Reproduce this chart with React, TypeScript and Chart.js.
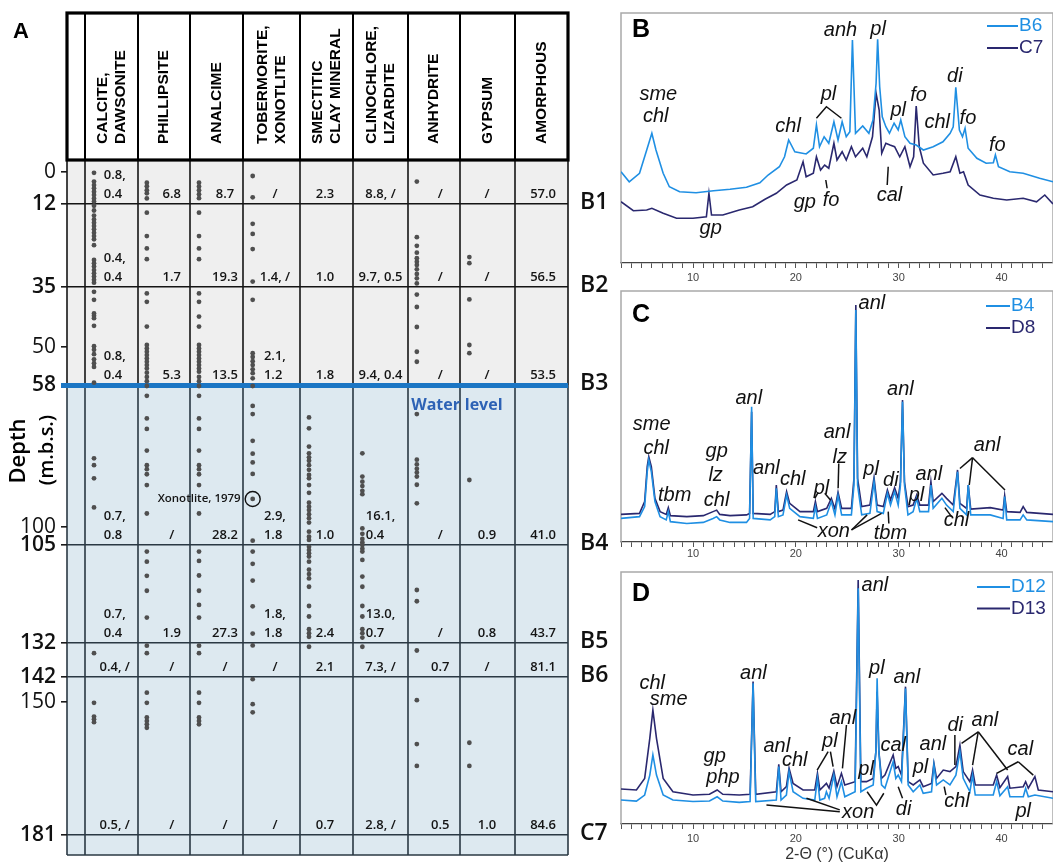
import React, { useEffect, useRef } from "react";
import { Chart, registerables, LinearScale } from "chart.js";

Chart.register(...registerables);

// ---------------- DATA: panel A ----------------
const mineralNames = [
  ["CALCITE,", "DAWSONITE"],
  ["PHILLIPSITE"],
  ["ANALCIME"],
  ["TOBERMORITE,", "XONOTLITE"],
  ["SMECTITIC", "CLAY MINERAL"],
  ["CLINOCHLORE,", "LIZARDITE"],
  ["ANHYDRITE"],
  ["GYPSUM"],
  ["AMORPHOUS"],
];
const depthTicks = [0, 12, 35, 50, 58, 100, 105, 132, 142, 150, 181];
const intervalBottoms = [12, 35, 58, 105, 132, 142, 181];
const sampleLabels = ["B1", "B2", "B3", "B4", "B5", "B6", "C7"];
const WATER_LEVEL = 58;

const calciteDots = [0.3, 3.6, 4.9, 6.1, 7.4, 8.6, 9.9, 11.1, 12.5, 13.8, 15.2, 16.3, 17.2, 18.1, 19.0, 20.0, 20.9, 21.8, 23.4, 27.5, 28.4, 29.3, 30.3, 31.2, 32.1, 33.0, 33.8, 36.2, 38.2, 41.6, 42.2, 42.8, 44.7, 49.8, 50.6, 51.5, 52.6, 53.4, 54.2, 57.5, 79.7, 81.7, 85.6, 94.2, 135.0, 150.2, 153.4, 154.0, 154.7];
const phillipsiteDots = [4.0, 5.3, 6.8, 8.0, 9.9, 14.4, 20.9, 24.3, 27.3, 36.6, 38.7, 44.9, 49.5, 50.3, 51.0, 51.7, 52.4, 53.1, 53.8, 54.5, 55.4, 56.3, 57.2, 58.3, 61.2, 67.9, 71.0, 77.4, 81.7, 82.9, 84.4, 87.6, 96.0, 106.8, 109.6, 113.5, 117.6, 125.0, 132.8, 135.0, 147.0, 150.2, 153.6, 154.4, 155.2, 156.0];
const analcimeDots = [4.0, 5.4, 6.8, 8.3, 9.8, 14.4, 20.9, 24.3, 27.3, 36.6, 38.7, 42.4, 44.9, 49.5, 50.3, 51.0, 51.7, 52.4, 53.1, 53.8, 54.5, 55.2, 56.3, 57.2, 58.3, 61.2, 67.9, 71.0, 77.4, 81.7, 82.9, 84.4, 87.6, 96.0, 106.8, 109.4, 113.4, 117.6, 121.5, 125.0, 132.8, 135.0, 147.0, 150.2, 153.6, 154.4, 155.2];
const tobermoriteDots = [1.5, 9.5, 17.5, 20.3, 24.5, 33.5, 38.2, 51.3, 52.1, 53.0, 53.8, 54.7, 55.5, 56.6, 58.3, 64.2, 66.6, 74.5, 78.3, 80.9, 84.3, 91.7, 103.8, 106.8, 110.2, 114.8, 121.9, 129.4, 132.7, 142.7, 150.5, 152.4];
const smectiteDots = [67.6, 70.8, 76.2, 78.2, 79.4, 80.4, 81.7, 83.1, 84.6, 85.6, 87.6, 89.9, 92.8, 94.0, 95.0, 96.2, 97.4, 98.7, 101.3, 102.7, 103.6, 105.5, 106.4, 107.3, 108.2, 109.6, 111.8, 113.0, 114.2, 116.5, 121.8, 124.7, 128.2, 129.3, 130.3, 133.1];
const clinochloreDots = [78.2, 85.1, 86.6, 87.9, 89.3, 90.3, 100.4, 101.9, 103.3, 104.3, 105.0, 106.0, 106.8, 109.1, 113.7, 116.5, 121.8, 124.7, 128.2, 129.3, 130.5, 133.1];
const anhydriteDots = [3.6, 21.2, 23.6, 25.5, 27.0, 28.0, 28.9, 30.1, 31.4, 32.6, 34.0, 36.9, 40.0, 45.0, 51.0, 53.1, 66.6, 80.1, 81.5, 82.8, 83.9, 85.1, 87.5, 93.0, 117.4, 120.5, 134.2, 149.4, 159.8, 164.9];
const gypsumDots = [26.7, 28.4, 38.1, 49.5, 51.3, 86.1, 159.5, 164.9];
const amorphousDots: number[] = [];
const mineralDots = [calciteDots, phillipsiteDots, analcimeDots, tobermoriteDots, smectiteDots, clinochloreDots, anhydriteDots, gypsumDots, amorphousDots];

const calciteVals = ["0.8,\n0.4", "0.4,\n0.4", "0.8,\n0.4", "0.7,\n0.8", "0.7,\n0.4", "0.4, /", "0.5, /"];
const phillipsiteVals = ["6.8", "1.7", "5.3", "/", "1.9", "/", "/"];
const analcimeVals = ["8.7", "19.3", "13.5", "28.2", "27.3", "/", "/"];
const tobermoriteVals = ["/", "1.4, /", "2.1,\n1.2", "2.9,\n1.8", "1.8,\n1.8", "/", "/"];
const smectiteVals = ["2.3", "1.0", "1.8", "1.0", "2.4", "2.1", "0.7"];
const clinochloreVals = ["8.8, /", "9.7, 0.5", "9.4, 0.4", "16.1,\n0.4", "13.0,\n0.7", "7.3, /", "2.8, /"];
const anhydriteVals = ["/", "/", "/", "/", "/", "0.7", "0.5"];
const gypsumVals = ["/", "/", "/", "0.9", "0.8", "/", "1.0"];
const amorphousVals = ["57.0", "56.5", "53.5", "41.0", "43.7", "81.1", "84.6"];
const mineralVals = [calciteVals, phillipsiteVals, analcimeVals, tobermoriteVals, smectiteVals, clinochloreVals, anhydriteVals, gypsumVals, amorphousVals];

const xonotliteDepth = 91.7;
const xonotliteLabel = "Xonotlite, 1979";
const XON_COLUMN = 3;

// ---------------- DATA: XRD panels ----------------
const seriesB6 = [[3.0,36.5],[3.8,32.5],[4.8,35.9],[5.5,45.2],[6.0,51.9],[6.4,45.2],[7.1,35.9],[7.7,30.5],[8.7,28.5],[10.3,28.1],[12.0,28.9],[13.6,29.5],[15.2,30.3],[16.5,32.1],[17.3,35.2],[18.4,38.5],[18.9,42.5],[19.3,49.2],[19.9,44.5],[21.0,43.6],[21.7,45.9],[22.0,55.2],[22.3,46.5],[22.75,50.5],[23.2,47.9],[23.7,56.5],[24.1,49.2],[24.5,56.5],[24.9,50.5],[25.25,52.5],[25.5,89.2],[25.8,51.9],[26.5,54.8],[27.1,51.9],[27.5,57.2],[27.8,71.9],[27.95,89.5],[28.15,70.5],[28.4,58.5],[28.75,54.5],[29.1,51.9],[29.55,55.9],[29.95,53.2],[30.2,57.2],[30.6,50.5],[31.1,47.9],[31.7,47.2],[32.4,45.2],[33.35,46.5],[34.3,48.5],[35.0,51.9],[35.3,54.5],[35.55,70.3],[35.9,53.2],[36.2,50.5],[36.45,53.9],[36.75,45.9],[37.6,41.9],[38.5,39.9],[39.2,40.1],[39.4,43.2],[39.7,38.5],[40.8,36.5],[42.1,35.9],[43.7,33.9],[45.0,32.5]];
const seriesC7 = [[3.0,24.5],[4.2,20.9],[5.5,21.2],[6.0,21.9],[7.1,19.9],[8.4,17.9],[10.0,17.9],[11.3,18.5],[11.55,27.9],[11.8,19.2],[12.9,19.2],[14.5,21.2],[15.8,22.5],[17.0,25.5],[18.1,27.9],[19.1,31.2],[20.1,33.2],[20.7,40.5],[21.0,34.5],[21.7,35.9],[22.0,42.5],[22.4,37.2],[22.8,39.2],[23.2,37.9],[23.7,47.9],[24.0,41.2],[24.5,44.5],[24.9,41.2],[25.4,46.5],[25.8,42.5],[26.5,45.9],[26.9,42.5],[27.45,50.5],[27.8,67.9],[28.1,61.2],[28.35,43.9],[28.75,47.9],[29.15,47.2],[29.6,46.5],[30.1,42.5],[30.6,46.5],[31.1,38.5],[31.45,42.5],[31.7,62.8],[32.0,46.5],[32.4,39.9],[33.35,35.2],[34.3,35.9],[35.0,36.5],[35.55,42.5],[35.95,35.9],[36.3,36.5],[36.75,31.2],[37.9,27.2],[39.2,25.9],[40.5,25.2],[42.1,25.9],[43.4,24.5],[44.2,27.2],[45.0,23.6]];
const seriesB4 = [[3.0,9.4],[4.8,10.1],[5.3,14.1],[5.55,28.0],[5.7,32.7],[5.95,28.0],[6.3,16.1],[6.8,10.1],[7.4,8.8],[7.6,12.1],[7.8,8.1],[9.4,7.4],[11.0,7.8],[11.95,9.4],[12.3,10.1],[12.6,8.8],[13.6,7.8],[15.2,7.8],[15.5,9.4],[15.7,53.9],[15.85,9.4],[17.5,8.8],[17.95,10.1],[18.1,21.4],[18.3,10.1],[18.75,10.8],[19.1,18.7],[19.4,13.4],[20.4,10.1],[21.7,9.4],[21.9,14.1],[22.1,9.4],[23.0,10.8],[23.45,16.1],[23.8,10.8],[24.1,18.5],[24.45,10.8],[25.4,10.8],[25.65,22.7],[25.83,92.4],[26.0,22.7],[26.4,10.8],[27.2,11.4],[27.6,24.0],[27.9,12.1],[28.5,11.4],[28.9,19.4],[29.2,14.7],[29.6,20.1],[29.95,14.7],[30.17,22.7],[30.37,55.9],[30.56,22.7],[30.9,10.8],[31.4,12.1],[31.75,17.4],[32.05,12.1],[32.9,12.1],[33.13,22.7],[33.35,13.4],[34.2,17.4],[34.65,14.7],[35.3,12.1],[35.72,28.0],[35.95,13.4],[36.6,10.8],[36.76,22.7],[37.0,10.8],[38.9,10.8],[40.15,9.4],[40.3,18.1],[40.5,8.8],[41.8,8.8],[42.1,10.8],[42.45,8.8],[45.0,8.1]];
const seriesD8 = [[3.0,11.0],[4.8,11.4],[5.3,16.1],[5.55,30.0],[5.7,34.0],[5.95,30.0],[6.3,17.4],[6.8,12.1],[7.4,11.0],[7.6,13.7],[7.8,10.5],[9.4,10.1],[11.0,10.5],[11.95,12.1],[12.3,12.7],[12.6,11.0],[13.6,10.5],[15.2,10.8],[15.5,11.4],[15.7,51.9],[15.85,11.4],[17.5,11.0],[17.95,12.1],[18.1,22.7],[18.3,12.1],[18.75,12.7],[19.1,20.1],[19.4,15.4],[20.4,12.1],[21.7,12.1],[21.9,16.1],[22.1,12.1],[23.0,13.4],[23.45,17.4],[23.8,13.1],[24.1,19.8],[24.45,13.4],[25.4,13.4],[25.65,25.4],[25.83,94.4],[26.0,25.4],[26.4,14.1],[27.2,14.7],[27.6,25.6],[27.9,14.7],[28.5,14.1],[28.9,20.7],[29.2,16.7],[29.6,21.6],[29.95,17.4],[30.17,24.0],[30.37,56.6],[30.56,24.0],[30.9,14.1],[31.4,14.7],[31.75,18.7],[32.05,14.7],[32.9,14.7],[33.13,24.0],[33.35,16.1],[34.2,19.4],[34.65,17.4],[35.3,14.7],[35.72,28.7],[35.95,15.4],[36.6,13.4],[36.76,22.7],[37.0,13.1],[38.9,13.7],[40.15,12.7],[40.3,18.5],[40.5,12.1],[41.8,11.8],[42.1,14.1],[42.45,11.8],[45.0,11.0]];
const seriesD12 = [[3.0,9.5],[4.5,9.1],[5.3,11.5],[5.8,19.4],[6.1,27.4],[6.45,19.4],[7.1,11.5],[8.05,9.5],[10.0,8.9],[11.6,9.1],[12.35,10.8],[12.9,9.1],[14.5,8.6],[15.55,8.9],[15.84,55.8],[16.1,8.9],[18.1,9.5],[18.34,22.8],[18.56,9.5],[19.08,11.5],[19.34,20.8],[19.73,12.8],[20.7,10.2],[21.84,9.5],[22.1,18.1],[22.33,9.5],[22.8,10.2],[22.97,12.8],[23.23,10.2],[23.69,19.4],[24.0,10.8],[24.43,16.8],[24.76,10.8],[25.76,12.8],[26.06,93.5],[26.32,12.8],[26.87,14.2],[27.52,15.5],[27.78,28.7],[27.9,57.8],[28.07,28.7],[28.33,15.5],[28.66,14.2],[29.46,24.7],[29.72,18.1],[29.95,19.4],[30.27,16.8],[30.66,53.8],[30.92,15.5],[31.41,12.8],[32.06,15.5],[32.38,12.2],[33.19,12.8],[33.42,23.4],[33.68,15.5],[34.33,17.5],[34.98,15.5],[35.56,19.4],[35.95,28.7],[36.27,18.1],[36.92,12.8],[37.18,19.4],[37.44,11.5],[39.19,11.5],[39.52,16.8],[39.84,11.2],[40.59,14.8],[40.81,10.8],[42.11,10.8],[42.34,14.2],[42.6,10.8],[43.24,11.5],[45.0,10.2]];
const seriesD13 = [[3.0,13.9],[4.5,13.5],[5.3,18.1],[5.8,34.0],[6.1,45.2],[6.45,34.0],[7.1,18.1],[8.05,12.8],[10.0,11.5],[11.6,11.8],[12.35,13.5],[12.9,11.8],[14.5,11.5],[15.55,11.8],[15.84,56.5],[16.1,11.8],[18.1,12.8],[18.34,23.7],[18.56,12.8],[19.08,14.8],[19.34,22.1],[19.73,16.1],[20.7,13.5],[21.84,13.5],[22.1,20.1],[22.33,13.5],[22.97,16.1],[23.23,14.2],[23.69,21.0],[24.0,14.8],[24.43,20.1],[24.76,15.5],[25.76,16.8],[26.06,96.8],[26.32,16.8],[26.87,16.8],[27.52,18.1],[27.78,28.7],[27.9,52.5],[28.07,28.7],[28.33,18.1],[28.66,19.4],[29.46,27.4],[29.72,22.1],[29.95,22.8],[30.27,19.4],[30.66,54.5],[30.92,16.8],[31.41,15.5],[32.06,17.5],[32.38,14.8],[33.19,16.1],[33.42,24.1],[33.68,18.1],[34.33,21.4],[34.98,20.8],[35.56,22.8],[35.95,31.3],[36.27,20.8],[36.92,16.8],[37.18,21.4],[37.44,15.5],[39.19,15.5],[39.52,19.4],[39.84,14.4],[40.59,18.8],[40.81,14.2],[42.11,14.8],[42.34,16.8],[42.6,14.2],[43.24,18.8],[43.57,13.5],[45.0,12.8]];

const xTickLabels = [10, 20, 30, 40];
const X_MIN = 3, X_MAX = 45;

const labelsB = [["sme",6.63,67.6],["chl",6.37,58.5],["chl",19.24,54.5],["pl",23.17,67.3],["anh",24.34,93.2],["pl",28.0,93.6],["pl",29.95,61.2],["fo",31.93,67.1],["chl",33.74,56.3],["di",35.46,74.8],["fo",36.73,57.9],["fo",39.58,46.9],["gp",20.87,24.3],["fo",23.43,24.9],["cal",29.1,27.2],["gp",11.72,13.9]];
const leadersB = [[[22.0,57.9],[22.97,62.5],[24.43,57.9]],[[22.91,33.2],[23.04,29.9]],[[28.98,38.5],[28.88,31.2]]];
const labelsC = [["sme",5.98,47.0],["chl",6.43,37.3],["tbm",8.22,18.5],["gp",12.3,36.0],["lz",12.2,26.7],["chl",12.3,16.7],["anl",15.42,57.1],["anl",17.14,29.3],["chl",19.7,25.1],["pl",22.49,21.4],["anl",24.0,43.7],["lz",24.27,33.7],["anl",27.39,95.1],["pl",27.32,29.1],["anl",30.17,60.6],["di",29.23,24.7],["pl",31.73,18.7],["anl",32.93,27.1],["anl",38.6,38.4],["chl",35.62,8.5],["xon",23.69,4.1],["tbm",29.2,3.5]];
const leadersC = [[[21.84,17.4],[22.17,19.8]],[[22.81,19.4],[23.36,16.7]],[[24.17,31.3],[24.11,21.4]],[[37.18,33.6],[35.95,29.3]],[[37.18,33.6],[36.86,22.7]],[[37.18,33.6],[40.33,20.7]],[[34.49,13.7],[35.14,10.1]],[[20.22,8.8],[22.07,5.7]],[[25.41,4.8],[26.93,10.8]],[[25.41,4.8],[28.33,11.4]],[[28.98,12.1],[29.04,7.4]]];
const labelsD = [["chl",6.04,55.8],["sme",7.63,49.3],["gp",12.11,26.7],["php",12.92,18.5],["anl",15.87,59.8],["anl",18.14,30.7],["chl",19.89,25.4],["pl",23.3,32.7],["anl",24.56,41.9],["anl",27.68,94.6],["pl",27.87,61.8],["anl",30.79,58.1],["pl",26.83,21.8],["cal",29.46,31.3],["anl",33.32,31.6],["pl",32.12,22.5],["di",35.49,39.3],["anl",38.38,40.9],["cal",41.82,29.4],["di",30.47,5.6],["chl",35.66,8.9],["pl",42.11,4.9],["xon",26.06,4.4]];
const leadersD = [[[22.07,21.4],[23.14,28.7]],[[23.62,22.8],[23.36,28.7]],[[24.92,39.3],[24.53,22.1]],[[35.46,35.3],[35.46,23.4]],[[37.73,36.6],[36.11,32.0]],[[37.73,36.6],[37.18,23.4]],[[37.73,36.6],[40.59,21.4]],[[41.62,24.7],[39.52,20.1]],[[41.62,24.7],[43.08,19.4]],[[29.95,14.8],[30.37,10.2]],[[34.42,14.8],[34.59,11.5]],[[17.14,7.5],[24.27,4.9]],[[21.03,10.2],[24.27,5.6]],[[26.93,12.8],[27.84,7.5],[28.55,12.2]]];

// ---------------- layout constants ----------------
const LIGHT = "#1f8fe3";
const DARK = "#2a286f";
const DOT_OFFSET = 0.17;
const valueAnchor = [0.56, 0.65, 0.66, 0.56, 0.47, 0.5, 0.62, 0.49, 0.53];
const KNOTS: Record<string, number[][]> = {
  y: [[-4.5, 0], [0, 12], [12, 44], [35, 127], [50, 187], [58, 225], [100, 367], [105, 385], [132, 483], [142, 517], [150, 542], [181, 675], [185.6, 695]].map(([v, p]) => [v, p / 695]),
  x: [[0, 0], [1, 18], [2, 71], [3, 123], [4, 176], [5, 233], [6, 286], [7, 341], [8, 393], [9, 448], [10, 501]].map(([v, p]) => [v, p / 501]),
};

class PiecewiseScale extends (LinearScale as any) {
  static id = "piecewise";
  knotFrac(value: number) {
    const k = KNOTS[this.id];
    if (value <= k[0][0]) return k[0][1];
    for (let i = 0; i < k.length - 1; i++) {
      if (value <= k[i + 1][0]) {
        const t = (value - k[i][0]) / (k[i + 1][0] - k[i][0]);
        return k[i][1] + t * (k[i + 1][1] - k[i][1]);
      }
    }
    return k[k.length - 1][1];
  }
  getPixelForValue(value: number) {
    const f = this.knotFrac(value);
    return this.isHorizontal() ? this.left + f * this.width : this.top + f * this.height;
  }
  getValueForPixel(pixel: number) {
    const k = KNOTS[this.id];
    const f = this.isHorizontal() ? (pixel - this.left) / this.width : (pixel - this.top) / this.height;
    for (let i = 0; i < k.length - 1; i++) {
      if (f <= k[i + 1][1]) {
        const t = (f - k[i][1]) / (k[i + 1][1] - k[i][1]);
        return k[i][0] + t * (k[i + 1][0] - k[i][0]);
      }
    }
    return k[k.length - 1][0];
  }
}
Chart.register(PiecewiseScale as any);

const boundarySet = new Set(intervalBottoms);

const panelAPlugin = {
  id: "panelA",
  beforeDraw(chart: any) {
    const { ctx, chartArea: ca } = chart;
    const xs = chart.scales.x, ys = chart.scales.y;
    const yw = ys.getPixelForValue(WATER_LEVEL);
    ctx.save();
    ctx.fillStyle = "#efefef";
    ctx.fillRect(ca.left, ca.top, ca.right - ca.left, yw - ca.top);
    ctx.fillStyle = "#dde9f0";
    ctx.fillRect(ca.left, yw, ca.right - ca.left, ca.bottom - yw);
    ctx.lineWidth = 1.6;
    for (let c = 0; c <= mineralNames.length + 1; c++) {
      const px = xs.getPixelForValue(c);
      ctx.strokeStyle = "#151515";
      ctx.beginPath(); ctx.moveTo(px, ca.top); ctx.lineTo(px, yw); ctx.stroke();
      ctx.strokeStyle = "#2a3843";
      ctx.beginPath(); ctx.moveTo(px, yw); ctx.lineTo(px, ca.bottom); ctx.stroke();
    }
    ctx.beginPath(); ctx.moveTo(ca.left, ca.bottom); ctx.lineTo(ca.right, ca.bottom); ctx.stroke();
    ctx.restore();
  },
  afterDatasetsDraw(chart: any) {
    const { ctx } = chart;
    const xs = chart.scales.x, ys = chart.scales.y;
    ctx.save();
    ctx.font = '600 13px "Open Sans"';
    ctx.fillStyle = "#141414";
    ctx.textBaseline = "middle";
    mineralVals.forEach((vals, m) => {
      const cx = xs.getPixelForValue(m + 1 + valueAnchor[m]);
      vals.forEach((txt, k) => {
        const yb = ys.getPixelForValue(intervalBottoms[k]);
        const lines = txt.split("\n");
        const w = Math.max(...lines.map((l) => ctx.measureText(l).width));
        lines.forEach((ln, i) => {
          const yy = yb - 10 - (lines.length - 1 - i) * 19;
          if (lines.length > 1) { ctx.textAlign = "left"; ctx.fillText(ln, cx - w / 2, yy); }
          else { ctx.textAlign = "center"; ctx.fillText(ln, cx, yy); }
        });
      });
    });
    const xcx = xs.getPixelForValue(XON_COLUMN + 1 + DOT_OFFSET);
    const xcy = ys.getPixelForValue(xonotliteDepth);
    ctx.font = '600 11.5px "Open Sans"';
    ctx.textAlign = "right";
    ctx.fillText(xonotliteLabel, xcx - 12, xcy);
    const yw = ys.getPixelForValue(WATER_LEVEL);
    ctx.font = 'bold 16px "Open Sans"';
    ctx.fillStyle = "#2d62b5";
    ctx.textAlign = "center";
    ctx.fillText("Water", xs.getPixelForValue(7.53), yw + 20);
    ctx.fillText("level", xs.getPixelForValue(8.43), yw + 20);
    ctx.restore();
  },
  afterDraw(chart: any) {
    const { ctx, chartArea: ca } = chart;
    const xs = chart.scales.x, ys = chart.scales.y;
    const headerTop = 13;
    ctx.save();
    ctx.strokeStyle = "#000";
    ctx.lineWidth = 2;
    for (let c = 1; c <= mineralNames.length; c++) {
      const px = xs.getPixelForValue(c);
      ctx.beginPath(); ctx.moveTo(px, headerTop); ctx.lineTo(px, ca.top); ctx.stroke();
    }
    ctx.lineWidth = 3.2;
    ctx.strokeRect(ca.left, headerTop, ca.right - ca.left, ca.top - headerTop);
    ctx.fillStyle = "#000";
    ctx.font = 'bold 15.5px "Liberation Sans"';
    ctx.textAlign = "left";
    ctx.textBaseline = "middle";
    mineralNames.forEach((lines, m) => {
      const cx = (xs.getPixelForValue(m + 1) + xs.getPixelForValue(m + 2)) / 2;
      lines.forEach((ln, i) => {
        const off = (i - (lines.length - 1) / 2) * 17.5;
        ctx.save();
        ctx.translate(cx + off, 144);
        ctx.rotate(-Math.PI / 2);
        ctx.fillText(ln, 0, 0);
        ctx.restore();
      });
    });
    ctx.font = '600 23px "Open Sans"';
    ctx.fillStyle = "#111";
    intervalBottoms.forEach((d, i) => {
      ctx.fillText(sampleLabels[i], 580, ys.getPixelForValue(d) - 2);
    });
    ctx.font = 'bold 22px "Liberation Sans"';
    ctx.fillStyle = "#000";
    ctx.fillText("A", 13, 32);
    ctx.textAlign = "center";
    ctx.save();
    ctx.translate(19, 451);
    ctx.rotate(-Math.PI / 2);
    ctx.font = '600 22px "Open Sans"';
    ctx.fillText("Depth", 0, 0);
    ctx.restore();
    ctx.save();
    ctx.translate(47, 450);
    ctx.rotate(-Math.PI / 2);
    ctx.font = '600 20px "Open Sans"';
    ctx.fillText("(m.b.s.)", 0, 0);
    ctx.restore();
    ctx.restore();
  },
};

function panelAConfig(): any {
  const datasets: any[] = mineralDots.map((dots, m) => ({
    label: mineralNames[m].join(" "),
    data: dots.map((d) => ({ x: m + 1 + DOT_OFFSET, y: d })),
    pointRadius: 2.4,
    pointBackgroundColor: "#4f4f4f",
    pointBorderWidth: 0,
    showLine: false,
  }));
  datasets.push({
    label: "Xonotlite find",
    data: [{ x: XON_COLUMN + 1 + DOT_OFFSET, y: xonotliteDepth }],
    pointRadius: 7.5,
    pointBackgroundColor: "rgba(0,0,0,0)",
    pointBorderColor: "#111",
    pointBorderWidth: 1.4,
    showLine: false,
  });
  const lineColor = (v: number) =>
    v === WATER_LEVEL ? "#1b76c4" : boundarySet.has(v) ? (v < WATER_LEVEL ? "#141414" : "#2a3843") : "rgba(0,0,0,0)";
  return {
    type: "scatter",
    data: { datasets },
    options: {
      responsive: false,
      animation: false,
      devicePixelRatio: 1,
      events: [],
      layout: { padding: { top: 160, right: 52, bottom: 9, left: 0 } },
      plugins: { legend: { display: false }, tooltip: { enabled: false } },
      scales: {
        x: { type: "piecewise", display: false, min: 0, max: 10 },
        y: {
          type: "piecewise",
          min: -4.5,
          max: 185.6,
          afterBuildTicks: (s: any) => { s.ticks = depthTicks.map((v) => ({ value: v })); },
          afterFit: (s: any) => { s.width = 67; s.paddingTop = 0; s.paddingBottom = 0; },
          border: { display: false },
          grid: {
            color: (c: any) => lineColor(c.tick ? c.tick.value : -1),
            lineWidth: (c: any) => (c.tick && c.tick.value === WATER_LEVEL ? 5 : 1.6),
            tickColor: (c: any) => (c.tick && c.tick.value === WATER_LEVEL ? "#1b76c4" : "#1a1a1a"),
            tickWidth: (c: any) => (c.tick && c.tick.value === WATER_LEVEL ? 5 : 1.6),
            tickLength: 6,
          },
          ticks: {
            padding: 5,
            color: "#111",
            callback: (v: any) => String(v),
            font: (c: any) => ({
              family: "Open Sans",
              size: 21,
              weight: c.tick && boundarySet.has(c.tick.value) ? "600" : "400",
            }),
          },
        },
      },
    },
    plugins: [panelAPlugin],
  };
}

function makeXrdPlugin(cfg: any) {
  return {
    id: "xrdDeco" + cfg.letter,
    beforeDatasetsDraw(chart: any) {
      const { ctx, chartArea: ca } = chart;
      ctx.save();
      ctx.strokeStyle = "#a9a9a9";
      ctx.lineWidth = 1.5;
      ctx.beginPath();
      ctx.moveTo(ca.left, ca.bottom);
      ctx.lineTo(ca.left, ca.top);
      ctx.lineTo(ca.right, ca.top);
      ctx.lineTo(ca.right, ca.bottom);
      ctx.stroke();
      ctx.restore();
    },
    afterDatasetsDraw(chart: any) {
      const { ctx, chartArea: ca } = chart;
      const xs = chart.scales.x, ys = chart.scales.y;
      ctx.save();
      ctx.strokeStyle = "#111";
      ctx.lineWidth = 1.5;
      cfg.leaders.forEach((pts: number[][]) => {
        ctx.beginPath();
        pts.forEach(([x, y], i) => {
          const px = xs.getPixelForValue(x), py = ys.getPixelForValue(y);
          if (i) ctx.lineTo(px, py); else ctx.moveTo(px, py);
        });
        ctx.stroke();
      });
      ctx.font = 'italic 20px "Liberation Sans"';
      ctx.fillStyle = "#111";
      ctx.textAlign = "center";
      ctx.textBaseline = "middle";
      cfg.labels.forEach(([t, x, y]: any) => ctx.fillText(t, xs.getPixelForValue(x), ys.getPixelForValue(y)));
      ctx.font = 'bold 25px "Liberation Sans"';
      ctx.fillStyle = "#000";
      ctx.textAlign = "left";
      ctx.fillText(cfg.letter, ca.left + 11, cfg.letterY);
      ctx.font = '19px "Liberation Sans"';
      cfg.series.forEach((s: any, i: number) => {
        const ly = cfg.legend.y0 + i * cfg.legend.dy;
        ctx.strokeStyle = s.color;
        ctx.lineWidth = 2;
        ctx.beginPath(); ctx.moveTo(cfg.legend.x0, ly); ctx.lineTo(cfg.legend.x1, ly); ctx.stroke();
        ctx.fillStyle = s.color;
        ctx.fillText(s.label, cfg.legend.x1 + 1, ly);
      });
      ctx.restore();
    },
  };
}

function xrdConfig(cfg: any): any {
  return {
    type: "line",
    data: {
      datasets: cfg.series.map((s: any) => ({
        label: s.label,
        data: s.points.map(([x, y]: number[]) => ({ x, y })),
        borderColor: s.color,
        borderWidth: 1.6,
        pointRadius: 0,
        tension: 0,
        fill: false,
      })),
    },
    options: {
      responsive: false,
      animation: false,
      devicePixelRatio: 1,
      events: [],
      layout: { padding: { left: 41, right: 0, top: cfg.padTop, bottom: 0 } },
      plugins: { legend: { display: false }, tooltip: { enabled: false } },
      scales: {
        x: {
          type: "linear",
          min: X_MIN,
          max: X_MAX,
          afterBuildTicks: (s: any) => {
            const t: any[] = [];
            for (let v = X_MIN; v <= X_MAX; v++) t.push({ value: v });
            s.ticks = t;
          },
          afterFit: (s: any) => { s.height = cfg.axisH; s.paddingLeft = 0; s.paddingRight = 0; },
          ticks: {
            autoSkip: false,
            maxRotation: 0,
            padding: cfg.tickPad,
            color: "#444",
            font: { family: "Liberation Sans", size: 11 },
            callback: (v: any) => (xTickLabels.includes(v) ? String(v) : ""),
          },
          grid: { drawOnChartArea: false, tickLength: 5, tickColor: "#555", tickWidth: 1 },
          border: { display: true, color: "#444", width: 1.3 },
          title: cfg.title
            ? { display: true, text: cfg.title, color: "#333", font: { family: "Liberation Sans", size: 16 }, padding: { top: 0, bottom: 0 } }
            : { display: false },
        },
        y: { display: false, min: 0, max: 100 },
      },
    },
    plugins: [makeXrdPlugin(cfg)],
  };
}

const panelB = {
  letter: "B", letterY: 30, padTop: 13, axisH: 27, tickPad: 3,
  series: [{ label: "B6", color: LIGHT, points: seriesB6 }, { label: "C7", color: DARK, points: seriesC7 }],
  labels: labelsB, leaders: leadersB,
  legend: { x0: 407, x1: 438, y0: 26, dy: 22 },
};
const panelC = {
  letter: "C", letterY: 30, padTop: 6, axisH: 23, tickPad: 0,
  series: [{ label: "B4", color: LIGHT, points: seriesB4 }, { label: "D8", color: DARK, points: seriesD8 }],
  labels: labelsC, leaders: leadersC,
  legend: { x0: 406, x1: 430, y0: 21, dy: 22 },
};
const panelD = {
  letter: "D", letterY: 29, padTop: 7, axisH: 40, tickPad: 3, title: "2-Θ (°) (CuKα)",
  series: [{ label: "D12", color: LIGHT, points: seriesD12 }, { label: "D13", color: DARK, points: seriesD13 }],
  labels: labelsD, leaders: leadersD,
  legend: { x0: 397, x1: 430, y0: 22, dy: 21.5 },
};

export default function App() {
  const aRef = useRef<HTMLCanvasElement>(null);
  const bRef = useRef<HTMLCanvasElement>(null);
  const cRef = useRef<HTMLCanvasElement>(null);
  const dRef = useRef<HTMLCanvasElement>(null);
  useEffect(() => {
    const charts = [
      new Chart(aRef.current as any, panelAConfig()),
      new Chart(bRef.current as any, xrdConfig(panelB)),
      new Chart(cRef.current as any, xrdConfig(panelC)),
      new Chart(dRef.current as any, xrdConfig(panelD)),
    ];
    return () => charts.forEach((c) => c.destroy());
  }, []);
  return (
    <div style={{ position: "fixed", left: 0, top: 0, width: 1053, height: 864, background: "#fff", overflow: "hidden" }}>
      <canvas ref={aRef} width={620} height={864} style={{ position: "absolute", left: 0, top: 0 }} />
      <canvas ref={bRef} width={473} height={290} style={{ position: "absolute", left: 580, top: 0 }} />
      <canvas ref={cRef} width={473} height={280} style={{ position: "absolute", left: 580, top: 285 }} />
      <canvas ref={dRef} width={473} height={299} style={{ position: "absolute", left: 580, top: 565 }} />
    </div>
  );
}
